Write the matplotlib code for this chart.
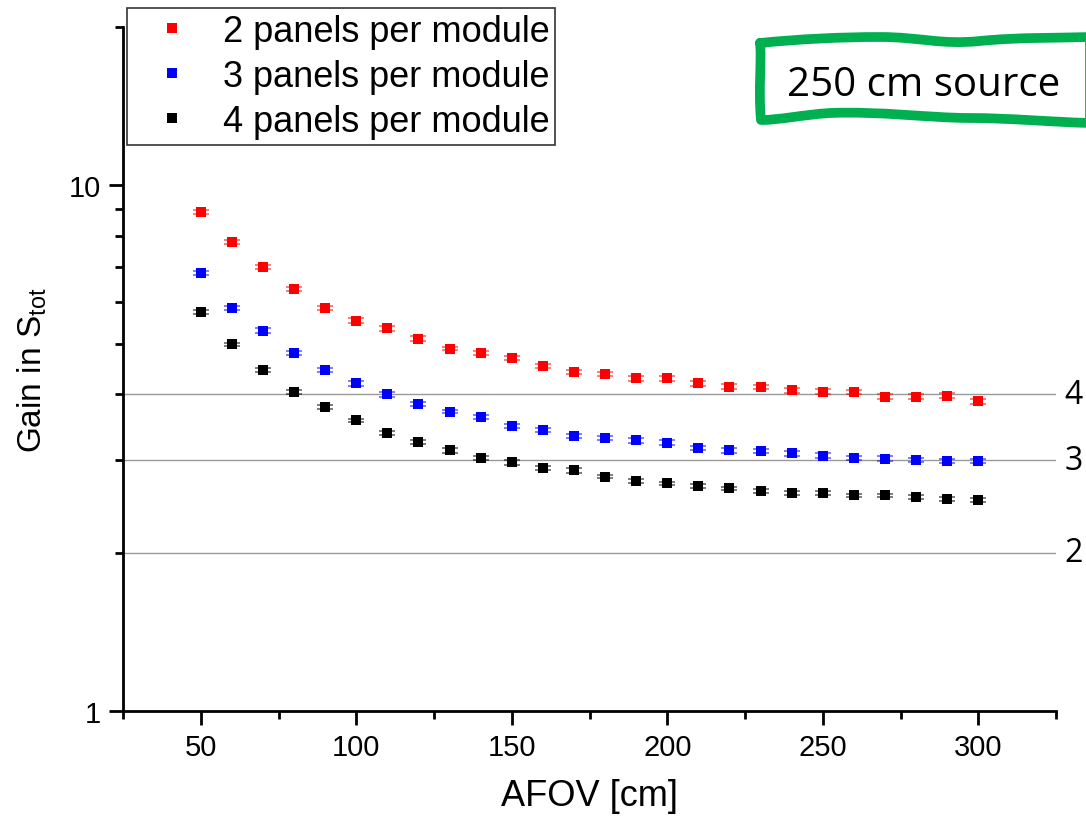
import numpy as np
import matplotlib.pyplot as plt
from matplotlib.path import Path
from matplotlib.patches import PathPatch

# AFOV in cm
afov = [50, 60, 70, 80, 90, 100, 110, 120, 130, 140, 150, 160, 170,
        180, 190, 200, 210, 220, 230, 240, 250, 260, 270, 280, 290, 300]

gain_2p = [8.88, 7.79, 6.98, 6.34, 5.83, 5.53, 5.34, 5.11, 4.89, 4.79, 4.70, 4.54, 4.42,
           4.37, 4.29, 4.29, 4.20, 4.14, 4.13, 4.07, 4.05, 4.04, 3.96, 3.96, 3.98, 3.88]
gain_3p = [6.80, 5.83, 5.29, 4.79, 4.46, 4.20, 4.00, 3.84, 3.71, 3.63, 3.48, 3.43, 3.34,
           3.30, 3.27, 3.24, 3.16, 3.13, 3.12, 3.09, 3.06, 3.03, 3.02, 3.00, 2.99, 2.99]
gain_4p = [5.75, 4.98, 4.46, 4.04, 3.79, 3.57, 3.38, 3.25, 3.13, 3.03, 2.97, 2.90, 2.87,
           2.79, 2.74, 2.71, 2.68, 2.65, 2.62, 2.60, 2.60, 2.57, 2.57, 2.55, 2.53, 2.52]

err_2p = [0.08, 0.07, 0.06, 0.06, 0.05, 0.05, 0.05, 0.05, 0.04, 0.04, 0.04, 0.04, 0.04,
          0.04, 0.04, 0.04, 0.04, 0.04, 0.04, 0.04, 0.04, 0.04, 0.04, 0.04, 0.04, 0.04]
err_3p = [0.06, 0.05, 0.05, 0.04, 0.04, 0.04, 0.04, 0.03, 0.03, 0.03, 0.03, 0.03, 0.03,
          0.03, 0.03, 0.03, 0.03, 0.03, 0.03, 0.03, 0.03, 0.03, 0.03, 0.03, 0.03, 0.03]
err_4p = [0.05, 0.04, 0.04, 0.04, 0.03, 0.03, 0.03, 0.03, 0.03, 0.03, 0.03, 0.03, 0.03,
          0.02, 0.02, 0.02, 0.02, 0.02, 0.02, 0.02, 0.02, 0.02, 0.02, 0.02, 0.02, 0.02]

ref_levels = [4, 3, 2]

plt.rcParams['font.family'] = ['Liberation Sans', 'DejaVu Sans']

fig = plt.figure(figsize=(10.86, 8.2), dpi=100)
ax = fig.add_axes([0.1133, 0.1317, 0.8591, 0.8342])

series = [(gain_2p, err_2p, 'red', '2 panels per module'),
          (gain_3p, err_3p, 'blue', '3 panels per module'),
          (gain_4p, err_4p, 'black', '4 panels per module')]

for g, e, c, lab in series:
    ax.errorbar(afov, g, yerr=e, fmt='none', ecolor=c, elinewidth=1,
                capsize=5.5, capthick=1.2, alpha=0.6, zorder=3)
    ax.plot(afov, g, 's', color=c, markersize=7, markeredgewidth=0,
            linestyle='none', label=lab, zorder=4)

# reference lines for the ideal gain
for lvl in ref_levels:
    ax.axhline(lvl, color='#999999', lw=1.0, zorder=1)
    ax.text(1.009, lvl, str(lvl), transform=ax.get_yaxis_transform(),
            va='center', ha='left', fontsize=23, family='Open Sans')

ax.set_yscale('log')
ax.set_ylim(1, 20)
ax.set_xlim(25, 325)
ax.set_xticks([50, 100, 150, 200, 250, 300])
ax.set_xticks([25, 75, 125, 175, 225, 275, 325], minor=True)
ax.set_yticks([1, 10])
ax.set_yticklabels(['1', '10'])
ax.set_yticks([2, 3, 4, 5, 6, 7, 8, 9, 20], minor=True)
ax.set_yticklabels([], minor=True)

for s in ['top', 'right']:
    ax.spines[s].set_visible(False)
for s in ['left', 'bottom']:
    ax.spines[s].set_linewidth(2)

ax.tick_params(which='major', direction='out', length=10, width=2, labelsize=21, pad=6)
ax.tick_params(which='minor', direction='out', length=6, width=2)

ax.set_xlabel('AFOV [cm]', fontsize=26, labelpad=12)
ax.set_ylabel(r'Gain in S$_{\mathregular{tot}}$', fontsize=24, labelpad=14)

leg = ax.legend(loc='upper left', bbox_to_anchor=(0.0045, 1.027), fontsize=26,
                frameon=True, fancybox=False, edgecolor='#333333', framealpha=1,
                handlelength=2.2, handletextpad=0.3, borderpad=0.15,
                labelspacing=0.28, markerscale=1.0, borderaxespad=0)
leg.get_frame().set_linewidth(1.2)

# wavy green frame around the source label (figure pixels)
W, H = 1086.0, 820.0
pts = [(760, 44),
       (800, 40), (840, 38), (880, 38),
       (920, 38), (940, 46), (980, 42),
       (1020, 38), (1060, 39), (1090, 38),
       (1090, 124),
       (1050, 123), (1010, 119), (970, 119),
       (930, 119), (880, 112), (830, 114),
       (800, 116), (780, 121), (761, 121),
       (758, 90), (762, 60), (760, 44)]
codes = [Path.MOVETO] + [Path.CURVE4] * 9 + [Path.LINETO] + [Path.CURVE4] * 9 + [Path.CURVE4] * 3
verts = [(x / W, 1 - y / H) for x, y in pts]
frame = PathPatch(Path(verts, codes), transform=fig.transFigure, facecolor='white',
                  edgecolor='#00B050', lw=7, joinstyle='round', capstyle='round')
fig.patches.append(frame)
fig.text(924 / W, 1 - 86 / H, '250 cm source', ha='center', va='center',
         fontsize=29, family='Open Sans')

plt.savefig('out.png', dpi=100)
plt.close()
